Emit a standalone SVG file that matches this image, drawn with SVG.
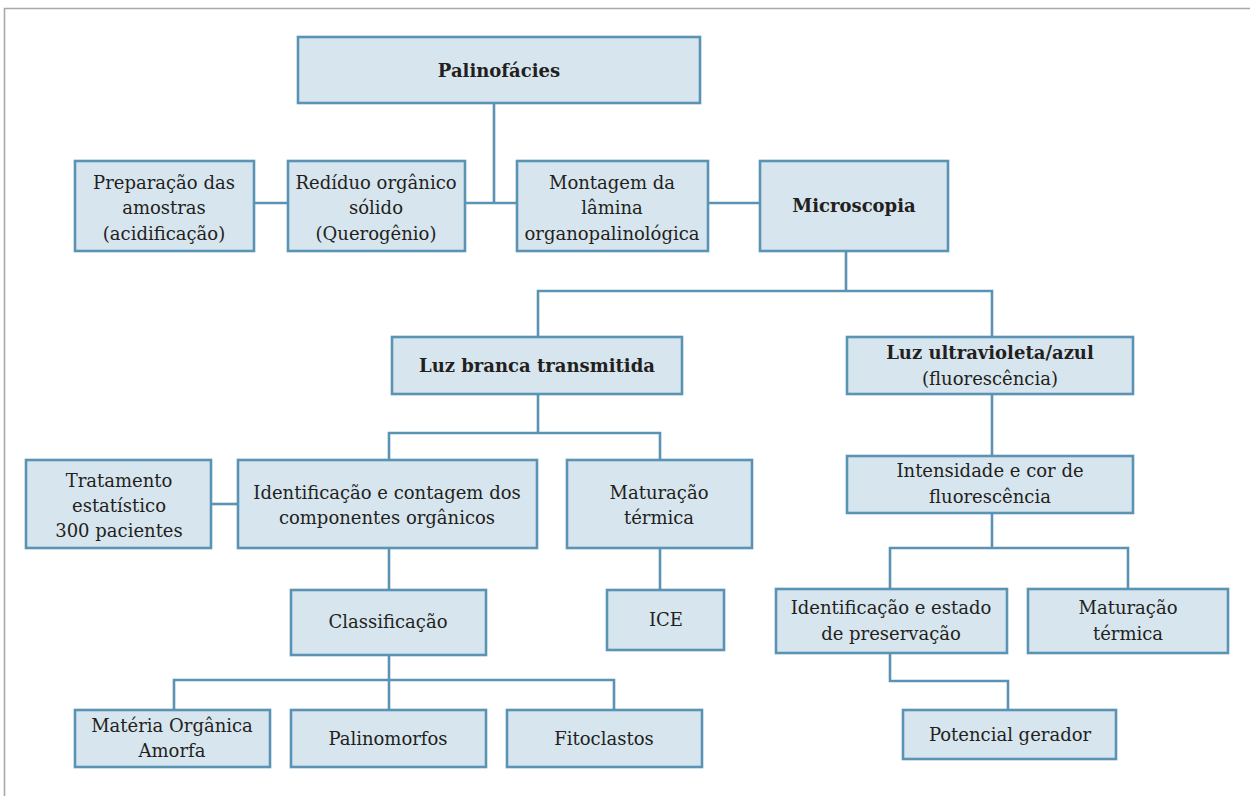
<svg xmlns="http://www.w3.org/2000/svg" width="1250" height="796" viewBox="0 0 1250 796">
<style>
.box{fill:#d7e5ee;stroke:#5b93b5;stroke-width:2.6}
.c{fill:none;stroke:#5b93b5;stroke-width:2.6}
text{font-family:"DejaVu Serif","Liberation Serif",serif;font-size:18px;fill:#231f20;text-anchor:middle}
.b{font-weight:bold}
</style>
<rect width="1250" height="796" fill="#ffffff"/>
<path d="M4.5 796 V8.5 H1250" fill="none" stroke="#a8a8a8" stroke-width="1.6"/>
<g id="connectors">
<path class="c" d="M494 103 V203 M254 203 H288 M465 203 H517 M708 203 H760"/>
<path class="c" d="M846 251 V291 M538 337 V291 H992 V337"/>
<path class="c" d="M538 394 V433 M389 460 V433 H660 V460"/>
<path class="c" d="M211 504 H238"/>
<path class="c" d="M389 548 V590 M660 548 V590"/>
<path class="c" d="M389 655 V710 M174 710 V680 H614 V710"/>
<path class="c" d="M992 394 V456 M992 513 V548 M890 589 V548 H1128 V589"/>
<path class="c" d="M890 653 V681 H1008 V710"/>
</g>
<g id="palinofacies"><rect class="box" x="298" y="37" width="402" height="66"/><text class="b" x="499" y="77">Palinofácies</text></g>
<g id="preparacao"><rect class="box" x="75" y="161" width="179" height="90"/><text x="164" y="189">Preparação das</text><text x="164" y="214">amostras</text><text x="164" y="240">(acidificação)</text></g>
<g id="residuo"><rect class="box" x="288" y="161" width="177" height="90"/><text x="376" y="189">Redíduo orgânico</text><text x="376" y="214">sólido</text><text x="376" y="240">(Querogênio)</text></g>
<g id="montagem"><rect class="box" x="517" y="161" width="191" height="90"/><text x="612" y="189">Montagem da</text><text x="612" y="214">lâmina</text><text x="612" y="240">organopalinológica</text></g>
<g id="microscopia"><rect class="box" x="760" y="161" width="188" height="90"/><text class="b" x="854" y="212">Microscopia</text></g>
<g id="luzbranca"><rect class="box" x="392" y="337" width="290" height="57"/><text class="b" x="537" y="372">Luz branca transmitida</text></g>
<g id="luzuv"><rect class="box" x="847" y="337" width="286" height="57"/><text class="b" x="990" y="359">Luz ultravioleta/azul</text><text x="990" y="385">(fluorescência)</text></g>
<g id="tratamento"><rect class="box" x="26" y="460" width="185" height="88"/><text x="119" y="487">Tratamento</text><text x="119" y="512">estatístico</text><text x="119" y="537">300 pacientes</text></g>
<g id="identificacao"><rect class="box" x="238" y="460" width="299" height="88"/><text x="387" y="499">Identificação e contagem dos</text><text x="387" y="524">componentes orgânicos</text></g>
<g id="maturacao1"><rect class="box" x="567" y="460" width="185" height="88"/><text x="659" y="499">Maturação</text><text x="659" y="524">térmica</text></g>
<g id="classificacao"><rect class="box" x="291" y="590" width="195" height="65"/><text x="388" y="628">Classificação</text></g>
<g id="ice"><rect class="box" x="607" y="590" width="117" height="60"/><text x="666" y="626">ICE</text></g>
<g id="materia"><rect class="box" x="75" y="710" width="195" height="57"/><text x="172" y="732">Matéria Orgânica</text><text x="172" y="757">Amorfa</text></g>
<g id="palinomorfos"><rect class="box" x="291" y="710" width="195" height="57"/><text x="388" y="745">Palinomorfos</text></g>
<g id="fitoclastos"><rect class="box" x="507" y="710" width="195" height="57"/><text x="604" y="745">Fitoclastos</text></g>
<g id="intensidade"><rect class="box" x="847" y="456" width="286" height="57"/><text x="990" y="477">Intensidade e cor de</text><text x="990" y="503">fluorescência</text></g>
<g id="identestado"><rect class="box" x="776" y="589" width="231" height="64"/><text x="891" y="614">Identificação e estado</text><text x="891" y="640">de preservação</text></g>
<g id="maturacao2"><rect class="box" x="1028" y="589" width="200" height="64"/><text x="1128" y="614">Maturação</text><text x="1128" y="640">térmica</text></g>
<g id="potencial"><rect class="box" x="903" y="710" width="213" height="49"/><text x="1010" y="741">Potencial gerador</text></g>
</svg>
